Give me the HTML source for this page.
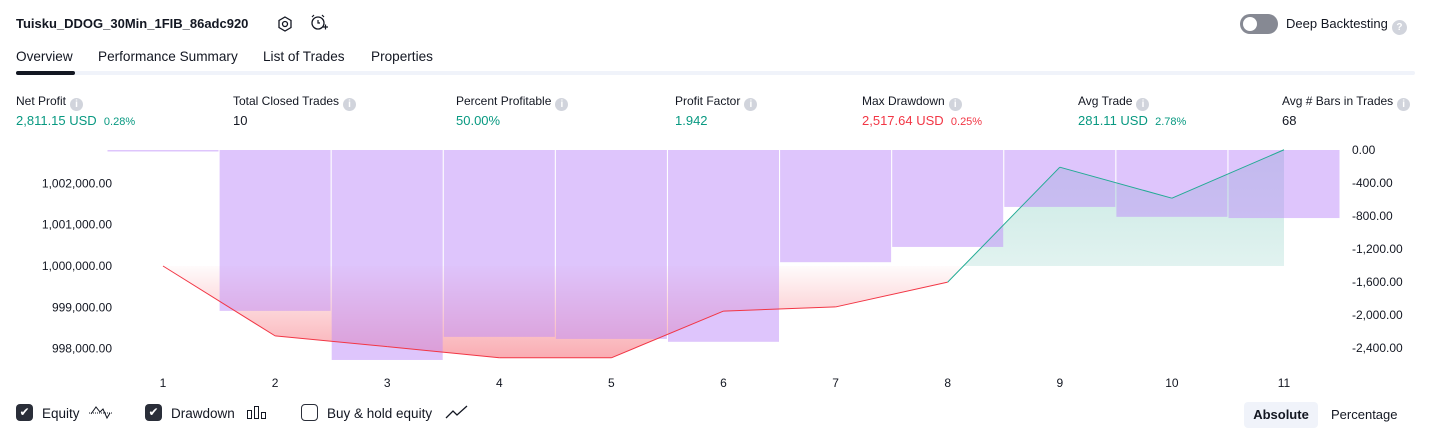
<!DOCTYPE html>
<html><head><meta charset="utf-8">
<style>
body{margin:0;width:1431px;height:438px;background:#fff;font-family:"Liberation Sans",sans-serif;color:#131722;position:relative;overflow:hidden}
.a{position:absolute;white-space:nowrap}
.t{font-size:13px;font-weight:bold}
.tab{font-size:13.6px;top:49px}
.lbl{font-size:12px;top:94px}
.val{font-size:13px;top:113px}
.g{color:#089981}.r{color:#f23645}
.sm{font-size:11px}
.info{display:inline-block;width:13px;height:13px;border-radius:50%;background:#d1d4dc;color:#fff;font-size:10px;text-align:center;line-height:13px;vertical-align:-2px;margin-left:4px;font-weight:bold}
.cb{position:absolute;top:404px;width:17px;height:17px;border-radius:4px;box-sizing:border-box}
.cb.on{background:#2a2e39;color:#fff;font-size:12px;text-align:center;line-height:17px}
.cb.off{border:1.5px solid #2a2e39}
.leg{font-size:13.5px;top:406px}
</style></head><body>
<div class="a t" style="left:16px;top:16px">Tuisku_DDOG_30Min_1FIB_86adc920</div>
<svg class="a" style="left:276px;top:15px" width="18" height="18"><polygon points="9,2 15,5.5 15,12.5 9,16 3,12.5 3,5.5" fill="none" stroke="#131722" stroke-width="1.3"/><circle cx="9" cy="9" r="2.5" fill="none" stroke="#131722" stroke-width="1.3"/></svg>
<svg class="a" style="left:309px;top:13px" width="20" height="20"><circle cx="9" cy="10" r="6" fill="none" stroke="#131722" stroke-width="1.3"/><path d="M9 7v3h2M3 4l2-2M15 4l-2-2M14 14h5M16.5 11.5v5" fill="none" stroke="#131722" stroke-width="1.2"/></svg>
<div class="a" style="left:1240px;top:14px;width:38px;height:20px;border-radius:10px;background:#868993"><div style="position:absolute;left:3px;top:3px;width:14px;height:14px;border-radius:50%;background:#fff"></div></div>
<div class="a" style="left:1286px;top:16px;font-size:13px">Deep Backtesting<span class="info" style="width:15px;height:15px;line-height:15px">?</span></div>
<div class="a tab" style="left:16px">Overview</div>
<div class="a tab" style="left:98px">Performance Summary</div>
<div class="a tab" style="left:263px">List of Trades</div>
<div class="a tab" style="left:371px">Properties</div>
<div class="a" style="left:16px;top:71px;width:1399px;height:4px;background:#f0f3fa;border-radius:2px"></div>
<div class="a" style="left:16px;top:71px;width:59px;height:4px;background:#131722;border-radius:2px"></div>

<div class="a lbl" style="left:16px">Net Profit<span class="info">i</span></div>
<div class="a val g" style="left:16px">2,811.15 USD&nbsp; <span class="sm">0.28%</span></div>
<div class="a lbl" style="left:233px">Total Closed Trades<span class="info">i</span></div>
<div class="a val" style="left:233px">10</div>
<div class="a lbl" style="left:456px">Percent Profitable<span class="info">i</span></div>
<div class="a val g" style="left:456px">50.00%</div>
<div class="a lbl" style="left:675px">Profit Factor<span class="info">i</span></div>
<div class="a val g" style="left:675px">1.942</div>
<div class="a lbl" style="left:862px">Max Drawdown<span class="info">i</span></div>
<div class="a val r" style="left:862px">2,517.64 USD&nbsp; <span class="sm">0.25%</span></div>
<div class="a lbl" style="left:1078px">Avg Trade<span class="info">i</span></div>
<div class="a val g" style="left:1078px">281.11 USD&nbsp; <span class="sm">2.78%</span></div>
<div class="a lbl" style="left:1282px">Avg # Bars in Trades<span class="info">i</span></div>
<div class="a val" style="left:1282px">68</div>

<svg id="chart" class="a" style="left:0;top:140px" width="1431" height="250">
<defs>
<linearGradient id="rg" gradientUnits="userSpaceOnUse" x1="0" y1="126" x2="0" y2="220"><stop offset="0" stop-color="#f23645" stop-opacity="0.02"/><stop offset="1" stop-color="#f23645" stop-opacity="0.42"/></linearGradient>
<linearGradient id="gg" gradientUnits="userSpaceOnUse" x1="0" y1="126" x2="0" y2="20"><stop offset="0" stop-color="#089981" stop-opacity="0.12"/><stop offset="1" stop-color="#089981" stop-opacity="0.22"/></linearGradient>
<clipPath id="above"><rect x="0" y="0" width="1431" height="126"/></clipPath>
<clipPath id="below"><rect x="0" y="126" width="1431" height="124"/></clipPath>
</defs>
</svg>

<div class="cb on" style="left:16px">✔</div>
<div class="a leg" style="left:42px">Equity</div>
<svg class="a" style="left:88px;top:404px" width="26" height="16"><path d="M1 9h24" stroke="#131722" stroke-dasharray="1 1"/><path d="M3 10l5-7 4 5 3-3 4 9 3-5" fill="none" stroke="#131722"/></svg>
<div class="cb on" style="left:145px">✔</div>
<div class="a leg" style="left:171px">Drawdown</div>
<svg class="a" style="left:246px;top:405px" width="22" height="16"><rect x="1.5" y="5.5" width="4" height="8" fill="none" stroke="#131722"/><rect x="8.5" y="1.5" width="4" height="12" fill="none" stroke="#131722"/><rect x="15.5" y="7.5" width="4" height="6" fill="none" stroke="#131722"/></svg>
<div class="cb off" style="left:301px"></div>
<div class="a leg" style="left:327px">Buy &amp; hold equity</div>
<svg class="a" style="left:445px;top:404px" width="24" height="16"><path d="M1 14l7-7 4 4 10-9" fill="none" stroke="#131722" stroke-width="1.3"/></svg>
<div class="a" style="left:1244px;top:402px;width:74px;height:26px;background:#f0f3fa;border-radius:4px;font-size:13px;font-weight:bold;text-align:center;line-height:26px">Absolute</div>
<div class="a" style="left:1331px;top:402px;font-size:13px;line-height:26px">Percentage</div>

<script>
const categories=[1,2,3,4,5,6,7,8,9,10,11];
const drawdownValues=[0,-1950,-2545,-2265,-2290,-2325,-1360,-1175,-690,-810,-825];
const equityValues=[1000000,998310,998050,997780,997780,998910,999010,999610,1002390,1001640,1002811];
const leftTicks=[1002000,1001000,1000000,999000,998000];
const rightTicks=[0,-400,-800,-1200,-1600,-2000,-2400];
const baseEquity=1000000;
const NS="http://www.w3.org/2000/svg";
const svg=document.getElementById('chart');
const xS=i=>163+i*112.1;
const yL=v=>126-(v-baseEquity)*0.04135;
const yR=v=>10-v*0.0825;
function mk(t,a){const e=document.createElementNS(NS,t);for(const k in a)e.setAttribute(k,a[k]);svg.appendChild(e);return e;}
let pts=equityValues.map((v,i)=>xS(i)+','+yL(v)).join(' ');
let poly=pts+' '+xS(equityValues.length-1)+','+yL(baseEquity)+' '+xS(0)+','+yL(baseEquity);
let f1=mk('polygon',{points:poly,fill:'url(#rg)','clip-path':'url(#below)'});


let f2=mk('polygon',{points:poly,fill:'url(#gg)','clip-path':'url(#above)'});


drawdownValues.forEach((v,i)=>{
  const x0=xS(i)-56+0.5,w=111;
  const y0=yR(0),y1=yR(v);
  const h=Math.max(y1-y0,1.5);
  const b=mk('rect',{x:x0,y:y0,width:w,height:h,fill:'rgb(190,140,250)','fill-opacity':0.5});
  
  
});
for(let i=0;i<equityValues.length-1;i++){
  const above=(equityValues[i]+equityValues[i+1])/2>=baseEquity&&equityValues[i+1]>baseEquity;
  const l=mk('line',{x1:xS(i),y1:yL(equityValues[i]),x2:xS(i+1),y2:yL(equityValues[i+1]),stroke:above?'#22ab94':'#f23645','stroke-width':1});
  
  
}
leftTicks.forEach(v=>{
  const t=mk('text',{x:112,y:yL(v)+4,'text-anchor':'end','font-size':12,fill:'#131722','font-family':'Liberation Sans'});
  t.textContent=v.toLocaleString('en-US',{minimumFractionDigits:2});
  
  
});
rightTicks.forEach(v=>{
  const t=mk('text',{x:1352,y:yR(v)+4,'font-size':12,fill:'#131722','font-family':'Liberation Sans'});
  t.textContent=(v===0?'':'-')+Math.abs(v).toLocaleString('en-US',{minimumFractionDigits:2});
  
  
});
categories.forEach((c,i)=>{
  const t=mk('text',{x:xS(i),y:247,'text-anchor':'middle','font-size':12,fill:'#131722','font-family':'Liberation Sans'});
  t.textContent=c;
  
  
});
</script>
</body></html>
